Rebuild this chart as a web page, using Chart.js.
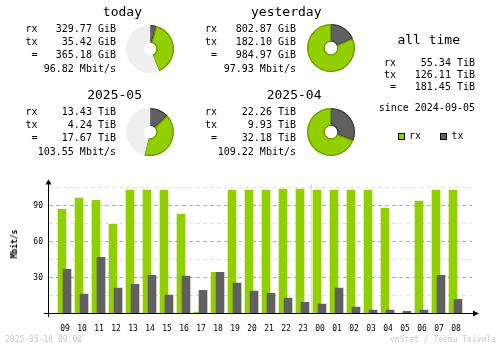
<!DOCTYPE html>
<html><head><meta charset="utf-8">
<script src="https://cdn.jsdelivr.net/npm/chart.js"></script>
<style>
html,body{margin:0;padding:0;background:#fff;}
#wrap{position:relative;width:500px;height:348px;overflow:hidden;background:#fff;font-family:"DejaVu Sans Mono",monospace;}
.t{position:absolute;white-space:pre;color:#000;}
canvas{position:absolute;}
.sq{position:absolute;width:5px;height:5px;border:1px solid #000;}
</style></head><body><div id="wrap">
<canvas id="bars" width="500" height="348" style="left:0;top:0"></canvas>
</div>
<script>
// ---- data ----
const HOURS = ['09','10','11','12','13','14','15','16','17','18','19','20','21','22','23','00','01','02','03','04','05','06','07','08'];
const RX_MBIT = [86.9, 96.1, 94.4, 74.4, 102.8, 102.8, 102.8, 82.8, 1.1, 34.4, 102.8, 102.8, 102.8, 103.6, 103.6, 102.8, 102.8, 102.8, 102.8, 87.8, 0, 93.6, 102.8, 102.8];
const TX_MBIT = [36.9, 16.1, 46.9, 21.1, 24.4, 31.9, 15.3, 31.1, 19.4, 34.4, 25.3, 18.6, 16.9, 12.8, 9.4, 7.8, 21.1, 5.3, 2.8, 2.8, 1.9, 2.8, 31.9, 11.9];
const Y_TICK_STEP = 15;
const Y_MAX = 105;
const Y_LABEL_STEP = 30;
const Y_UNIT = 'Mbit/s';

const PERIOD_TITLES = ['today', 'yesterday', '2025-05', '2025-04'];
const PERIOD_RX = ['329.77 GiB', '802.87 GiB', '13.43 TiB', '22.26 TiB'];
const PERIOD_TX = ['35.42 GiB', '182.10 GiB', '4.24 TiB', '9.93 TiB'];
const PERIOD_TOTAL = ['365.18 GiB', '984.97 GiB', '17.67 TiB', '32.18 TiB'];
const PERIOD_RATE = ['96.82 Mbit/s', '97.93 Mbit/s', '103.55 Mbit/s', '109.22 Mbit/s'];
const PIE_RX = [329.77, 802.87, 13.43, 22.26];
const PIE_TX = [35.42, 182.10, 4.24, 9.93];
const PIE_REST = [464.8, 0, 15.05, 0]; // unfilled share of the period

const ALL_TITLE = 'all time';
const ALL_VALUES = ['55.34 TiB', '126.11 TiB', '181.45 TiB'];
const ALL_SINCE = 'since 2024-09-05';
const ROW_LABELS = ['rx', 'tx', '='];
const FOOT_LEFT = '2025-05-18 09:00';
const FOOT_RIGHT = 'vnStat / Teemu Toivola';

// ---- styles / layout ----
const FONT = '"DejaVu Sans Mono", monospace';
const RX_COLOR = '#92cf00', RX_DARK = '#6b9900';
const TX_COLOR = '#606060', TX_DARK = '#3c3c3c';
const REST_COLOR = '#efefef';
const PANELS = [
  {labelR: 37.5, valueR: 116, titleR: 142, titleB: 16, rowB: 32, pieL: 126, pieT: 25},
  {labelR: 217, valueR: 296, titleR: 321.5, titleB: 16, rowB: 32, pieL: 306.5, pieT: 24},
  {labelR: 37.5, valueR: 116, titleR: 142, titleB: 99, rowB: 115, pieL: 126, pieT: 108},
  {labelR: 217, valueR: 296, titleR: 321.5, titleB: 99, rowB: 115, pieL: 306.5, pieT: 108}
];
const ROW_OFF = [0, 13, 26, 40];

const wrap = document.getElementById('wrap');
function txt(str, x, base, size, align, opts) {
  opts = opts || {};
  const d = document.createElement('div');
  d.className = 't';
  d.textContent = str;
  d.style.fontSize = size + 'px';
  d.style.lineHeight = size + 'px';
  d.style.top = (base - size * 0.846) + 'px';
  if (opts.color) d.style.color = opts.color;
  if (opts.bold) d.style.fontWeight = 'bold';
  if (align === 'right') { d.style.right = (500 - x) + 'px'; d.style.textAlign = 'right'; }
  else if (align === 'center') { d.style.left = (x - 100) + 'px'; d.style.width = '200px'; d.style.textAlign = 'center'; }
  else d.style.left = x + 'px';
  wrap.appendChild(d);
  return d;
}

// period panels
PANELS.forEach((p, i) => {
  txt(PERIOD_TITLES[i], p.titleR, p.titleB, 13, 'right');
  const vals = [PERIOD_RX[i], PERIOD_TX[i], PERIOD_TOTAL[i]];
  for (let r = 0; r < 3; r++) {
    txt(ROW_LABELS[r], p.labelR, p.rowB + ROW_OFF[r], 10, 'right');
    txt(vals[r], p.valueR, p.rowB + ROW_OFF[r], 10, 'right');
  }
  txt(PERIOD_RATE[i], p.valueR, p.rowB + ROW_OFF[3], 10, 'right');

  const c = document.createElement('canvas');
  c.width = 48; c.height = 48;
  c.style.left = p.pieL + 'px'; c.style.top = p.pieT + 'px';
  wrap.appendChild(c);
  const vals2 = [PIE_TX[i], PIE_RX[i]];
  const bg = [TX_COLOR, RX_COLOR], bc = [TX_DARK, RX_DARK];
  if (PIE_REST[i] > 0) { vals2.push(PIE_REST[i]); bg.push(REST_COLOR); bc.push(REST_COLOR); }
  new Chart(c, {
    type: 'doughnut',
    data: {labels: ['tx', 'rx', 'rest'].slice(0, vals2.length), datasets: [{data: vals2, backgroundColor: bg, borderColor: bc, borderWidth: 1, borderAlign: 'inner'}]},
    options: {responsive: false, animation: false, cutout: '26%', events: [],
      plugins: {legend: {display: false}, tooltip: {enabled: false}}}
  });
});

// all time block
txt(ALL_TITLE, 428.7, 44, 13, 'center');
[66, 78, 90].forEach((b, r) => {
  txt(ROW_LABELS[r], 396, b, 10, 'right');
  txt(ALL_VALUES[r], 475, b, 10, 'right');
});
txt(ALL_SINCE, 475, 111.5, 10, 'right');
// legend
function sq(x, y, fill, border) {
  const d = document.createElement('div'); d.className = 'sq';
  d.style.left = x + 'px'; d.style.top = y + 'px'; d.style.background = fill; d.style.borderColor = border;
  wrap.appendChild(d);
}
sq(398, 133, RX_COLOR, '#000');
txt('rx', 409, 139.5, 10, 'left');
sq(440, 133, TX_COLOR, '#000');
txt('tx', 451.5, 139.5, 10, 'left');

// footer
txt(FOOT_LEFT, 5, 342.3, 8, 'left', {color: '#c8c8c8'});
txt(FOOT_RIGHT, 496, 342.3, 8, 'right', {color: '#c8c8c8'});

// y unit label
const yl = txt(Y_UNIT, 0, 0, 8, 'left', {bold: true});
yl.style.left = '14.5px'; yl.style.top = '243.5px';
yl.style.transform = 'translate(-50%,-50%) rotate(-90deg)';

// ---- bar chart ----
const AREA_L = 49, AREA_R = 472, AREA_T = 187.5, AREA_B = 313.5;
const SLOT = 17, LABEL_C = 65, RX_C = 62, TX_C = 67;
function rangeFor(center) {
  const min = (AREA_L - center) / SLOT;
  return {min: min, max: min + (AREA_R - AREA_L) / SLOT};
}
const rX = rangeFor(LABEL_C), rR = rangeFor(RX_C), rT = rangeFor(TX_C);
const MID = HOURS.indexOf('00');

const axesPlugin = {
  id: 'axesDeco',
  beforeDatasetsDraw(chart) {
    const {ctx, chartArea: a} = chart;
    const x = Math.floor(chart.scales.x.getPixelForValue(MID - 0.5)) + 0.5;
    ctx.save();
    ctx.strokeStyle = '#dcdcdc'; ctx.lineWidth = 1;
    ctx.beginPath(); ctx.moveTo(x, a.top - 3.5); ctx.lineTo(x, a.bottom); ctx.stroke();
    ctx.restore();
  },
  afterDatasetsDraw(chart) {
    const {ctx, chartArea: a} = chart;
    ctx.save();
    ctx.strokeStyle = '#000'; ctx.fillStyle = '#000'; ctx.lineWidth = 1;
    const ax = a.left - 0.5, ay = a.bottom;
    ctx.beginPath(); ctx.moveTo(a.left - 5, ay); ctx.lineTo(a.right + 3, ay); ctx.stroke();
    ctx.beginPath(); ctx.moveTo(ax, a.bottom + 3.5); ctx.lineTo(ax, a.top - 4); ctx.stroke();
    ctx.beginPath(); ctx.moveTo(a.right + 7, ay); ctx.lineTo(a.right + 1, ay - 3); ctx.lineTo(a.right + 1, ay + 3); ctx.closePath(); ctx.fill();
    ctx.beginPath(); ctx.moveTo(ax, a.top - 8); ctx.lineTo(ax - 3, a.top - 3); ctx.lineTo(ax + 3, a.top - 3); ctx.closePath(); ctx.fill();
    ctx.restore();
  }
};

new Chart(document.getElementById('bars'), {
  type: 'bar',
  data: {datasets: [
    {label: 'rx', data: RX_MBIT.map((y, i) => ({x: i, y: y})), xAxisID: 'xr', yAxisID: 'y', backgroundColor: RX_COLOR, barThickness: 8, grouped: false, order: 1},
    {label: 'tx', data: TX_MBIT.map((y, i) => ({x: i, y: y})), xAxisID: 'xt', yAxisID: 'y', backgroundColor: TX_COLOR, barThickness: 8, grouped: false, order: 0}
  ]},
  options: {
    responsive: false, animation: false, events: [],
    layout: {padding: {left: 0, top: AREA_T, right: 500 - AREA_R, bottom: 0}},
    plugins: {legend: {display: false}, tooltip: {enabled: false}, title: {display: false}},
    scales: {
      x: {type: 'linear', position: 'bottom', min: rX.min, max: rX.max, bounds: 'data', offset: false,
        grid: {display: false, offset: false}, border: {display: false},
        afterBuildTicks: s => { s.ticks = HOURS.map((h, i) => ({value: i})); },
        ticks: {autoSkip: false, maxRotation: 0, padding: 3,
          font: {family: FONT, size: 8}, color: '#000',
          callback: v => (Number.isInteger(v) && HOURS[v] !== undefined) ? HOURS[v] : ''},
        afterFit: s => { s.height = 348 - AREA_B; }},
      xr: {type: 'linear', display: false, min: rR.min, max: rR.max, bounds: 'data', offset: false, grid: {offset: false}},
      xt: {type: 'linear', display: false, min: rT.min, max: rT.max, bounds: 'data', offset: false, grid: {offset: false}},
      y: {type: 'linear', min: 0, max: Y_MAX,
        grid: {drawTicks: false, lineWidth: 1,
          color: c => c.tick.value === 0 ? 'rgba(0,0,0,0)' : (c.tick.value % Y_LABEL_STEP === 0 ? '#b0b0b0' : '#e0e0e0')},
        border: {display: false, dash: [4, 3]},
        ticks: {stepSize: Y_TICK_STEP, padding: 6, font: {family: FONT, size: 8}, color: '#000',
          callback: v => (v > 0 && v % Y_LABEL_STEP === 0) ? String(v) : ''},
        afterFit: s => { s.width = AREA_L; }}
    }
  },
  plugins: [axesPlugin]
});
</script>
</body></html>
